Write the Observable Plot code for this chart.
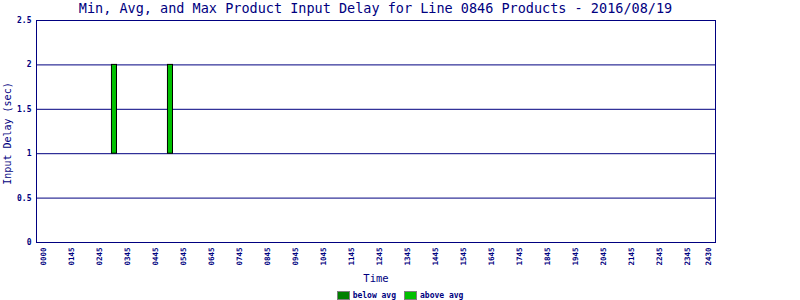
<!DOCTYPE html>
<html>
<head>
<meta charset="utf-8">
<script src="https://cdn.jsdelivr.net/npm/d3@7"></script>
<script src="https://cdn.jsdelivr.net/npm/@observablehq/plot@0.6"></script>
<style>
  html, body { margin: 0; padding: 0; background: #fff; }
  #wrap { position: relative; width: 800px; height: 300px; overflow: hidden; font-family: "DejaVu Sans Mono", monospace; color: #000080; }
  #title { height: 18px; line-height: 16px; font-size: 13.5px; text-align: center; padding-left: 36px; padding-right: 85px; box-sizing: border-box; width: 800px; white-space: nowrap; }
  #legend { position: absolute; left: 0; top: 290px; width: 800px; height: 10px; display: flex; justify-content: center; align-items: center; font-size: 8px; font-weight: bold; }
  .item { display: flex; align-items: center; margin: 0 4px; }
  .sw { width: 13px; height: 9px; box-sizing: border-box; border: 1px solid #808080; margin-right: 3px; }
</style>
</head>
<body>
<div id="wrap">
  <div id="title"></div>
  <div id="chart"></div>
  <div id="legend"></div>
</div>
<script>
const titleText = "Min, Avg, and Max Product Input Delay for Line 0846 Products - 2016/08/19";
const xTitle = "Time";
const yTitle = "Input Delay (sec)";

// x tick positions (slot units) and their labels
const tickPos = [0,1,2,3,4,5,6,7,8,9,10,11,12,13,14,15,16,17,18,19,20,21,22,23,23.75];
const tickLabels = ["0000","0145","0245","0345","0445","0545","0645","0745","0845","0945",
  "1045","1145","1245","1345","1445","1545","1645","1745","1845","1945","2045","2145","2245","2345","2430"];
const yTicks = [0, 0.5, 1, 1.5, 2, 2.5];

// bars (min to max delay)
const barPos = [2.535, 4.535];
const barMin = [1, 1];
const barMax = [2, 2];
const barClass = ["above avg", "above avg"];

const legendLabels = ["below avg", "above avg"];
const legendColors = ["#008000", "#00c000"];

const bars = barPos.map((p, i) => ({pos: p, lo: barMin[i], hi: barMax[i], cls: barClass[i]}));
const colorOf = c => legendColors[legendLabels.indexOf(c)];
const halfW = 0.09;

document.getElementById("title").textContent = titleText;

const chart = Plot.plot({
  width: 800,
  height: 266,
  marginTop: 2,
  marginBottom: 42,
  marginLeft: 36,
  marginRight: 85,
  style: {fontFamily: "DejaVu Sans Mono, monospace", color: "#000080", background: "white", overflow: "visible"},
  x: {domain: [-0.25, 24]},
  y: {domain: [0, 2.5]},
  marks: [
    Plot.ruleY(yTicks, {stroke: "#000080", strokeWidth: 1}),
    Plot.rectY(bars, {x1: d => d.pos - halfW, x2: d => d.pos + halfW, y1: "lo", y2: "hi", fill: d => colorOf(d.cls), stroke: "black", strokeWidth: 1}),
    Plot.frame({stroke: "#000080", strokeWidth: 1}),
    Plot.axisX({ticks: tickPos, tickFormat: (d) => tickLabels[tickPos.indexOf(d)], tickRotate: -90, tickSize: 0, tickPadding: 5, fontSize: 7.5, fontWeight: "bold", label: null}),
    Plot.axisY({ticks: yTicks, tickFormat: d => String(d), tickSize: 0, tickPadding: 5, fontSize: 8, fontWeight: "bold", label: null}),
    Plot.text([xTitle], {text: d => d, frameAnchor: "bottom", textAnchor: "middle", lineAnchor: "middle", dy: 36, fontSize: 10.5, fill: "#000080"}),
    Plot.text([yTitle], {text: d => d, frameAnchor: "left", textAnchor: "middle", rotate: -90, lineAnchor: "middle", dx: -29, dy: 2, fontSize: 10, fill: "#000080"})
  ]
});
document.getElementById("chart").appendChild(chart);

const leg = document.getElementById("legend");
legendLabels.forEach((l, i) => {
  const it = document.createElement("div");
  it.className = "item";
  const sw = document.createElement("div");
  sw.className = "sw";
  sw.style.background = legendColors[i];
  const tx = document.createElement("span");
  tx.textContent = l;
  it.appendChild(sw);
  it.appendChild(tx);
  leg.appendChild(it);
});
</script>
</body>
</html>
